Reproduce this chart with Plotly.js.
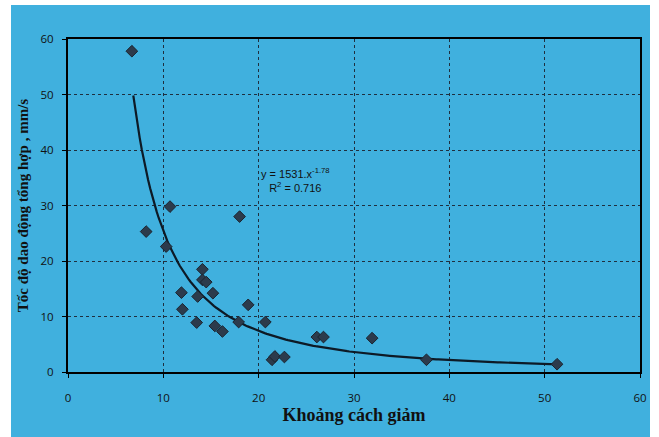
<!DOCTYPE html>
<html><head><meta charset="utf-8">
<script src="https://cdn.plot.ly/plotly-3.0.1.min.js"></script>
<style>html,body{margin:0;padding:0;background:#fff;width:659px;height:437px;overflow:hidden}
#chart{position:absolute;left:11px;top:5px;width:639px;height:432px}</style>
</head><body><div id="chart"></div>
<script>
const distance = [6.7, 10.7, 8.2, 10.3, 18.0, 14.1, 14.1, 14.5, 11.9, 13.6, 15.2, 18.9, 12.0, 13.5, 15.4, 16.2, 17.9, 20.7, 21.4, 21.7, 22.7, 26.1, 26.8, 31.9, 37.6, 51.3];
const speed    = [57.8, 29.8, 25.3, 22.6, 28.0, 18.5, 16.6, 16.2, 14.3, 13.6, 14.2, 12.1, 11.3, 8.9, 8.3, 7.3, 9.0, 9.0, 2.2, 2.8, 2.7, 6.3, 6.3, 6.1, 2.2, 1.4];
const trendA = 1531, trendB = -1.78, trendR2 = 0.716;
const trendStart = 6.85, trendEnd = 51.3;
const xTicks = [0, 10, 20, 30, 40, 50, 60];
const yTicks = [0, 10, 20, 30, 40, 50, 60];

const tx = [], ty = [];
for (let i = 0; i <= 200; i++) {
  const x = trendStart + (trendEnd - trendStart) * i / 200;
  tx.push(x); ty.push(trendA * Math.pow(x, trendB));
}
const blue = '#40b0de';
const tickFont = {family: 'Open Sans, Liberation Sans, sans-serif', size: 11.5, color: '#111'};
const titleFont = {family: 'Liberation Serif, DejaVu Serif, serif', color: '#111', weight: 'bold'};
const axisBase = {
  showline: true, mirror: true, linecolor: '#000', linewidth: 2,
  showgrid: true, gridcolor: '#1f2f3f', griddash: 'dot', gridwidth: 1,
  zeroline: false, ticks: 'outside', ticklen: 4, tickcolor: '#000',
  tickfont: tickFont, tickmode: 'array', ticklabelstandoff: 6
};
Plotly.newPlot('chart', [
  {x: tx, y: ty, mode: 'lines', line: {color: '#0d1a26', width: 2.2}, hoverinfo: 'skip'},
  {x: distance, y: speed, mode: 'markers', marker: {symbol: 'diamond', size: 9, color: '#2c3b4c', line: {color: '#1a2430', width: 1}}}
], {
  width: 639, height: 432,
  paper_bgcolor: blue, plot_bgcolor: blue,
  showlegend: false,
  margin: {l: 57, r: 10, t: 34, b: 65},
  xaxis: Object.assign({}, axisBase, {range: [0, 60], tickvals: xTicks, ticktext: xTicks.map(String),
    ticklabelstandoff: 10,
    title: {text: 'Khoảng cách giảm', font: Object.assign({size: 18}, titleFont), standoff: 4}}),
  yaxis: Object.assign({}, axisBase, {range: [0, 60], tickvals: yTicks, ticktext: yTicks.map(String),
    ticklabelstandoff: 6,
    title: {text: 'Tốc độ dao động tổng hợp , mm/s', font: Object.assign({size: 15}, titleFont), standoff: 8}}),
  annotations: [{
    x: 23.9, y: 34.6, xref: 'x', yref: 'y', showarrow: false, align: 'center',
    text: 'y = ' + trendA + '.x<sup>' + trendB + '</sup><br>R<sup>2</sup> = ' + trendR2,
    font: {family: 'Liberation Sans, sans-serif', size: 11, color: '#111'}
  }]
}, {displayModeBar: false, staticPlot: true});
</script></body></html>
